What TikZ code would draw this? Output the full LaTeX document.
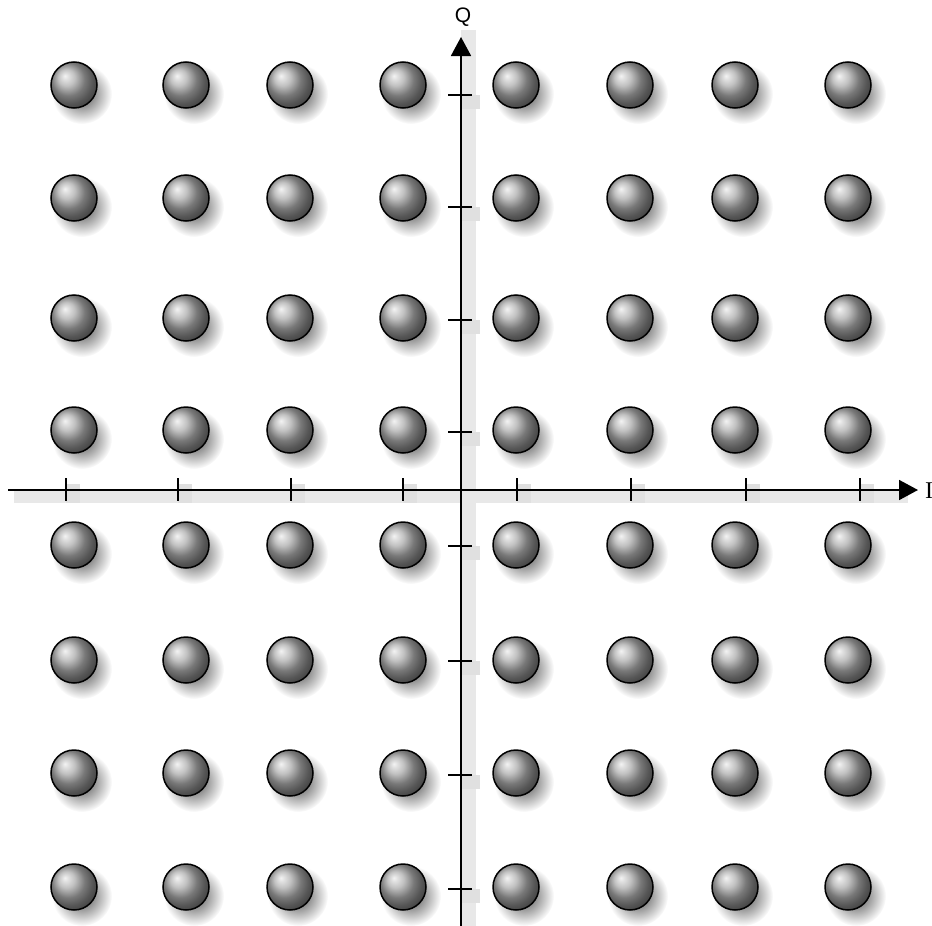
\documentclass[tikz,border=0pt]{standalone}
\usepackage{fontspec}
\setmainfont{Liberation Serif}
\newfontfamily\axsans{Liberation Sans}
\usetikzlibrary{arrows.meta,fadings,shadings}
\tikzfading[name=softshadow, inner color=transparent!30, outer color=transparent!100]
\tikzset{
  ballnode/.style={circle, minimum size=46pt, inner sep=0pt, draw=black, line width=1.5pt, ball color=gray!65},
  axisline/.style={line width=1.8pt, -{Triangle[length=19pt,width=20pt]}},
  tickline/.style={line width=1.8pt},
  bandfill/.style={fill=black!9},
  tickshade/.style={fill=black!12},
  lbl/.style={inner sep=0pt, font=\fontsize{24}{24}\selectfont}
}
\begin{document}
\begin{tikzpicture}[x=1pt,y=-1pt]
\useasboundingbox (0,0) rectangle (932,926);
% axis shadows
\fill[bandfill] (14,490) rectangle (908,503);
\fill[bandfill] (461,30) rectangle (476,926);
\foreach \t in {66,178,291,403,517,631,746,860}{
  \fill[tickshade] (\t,484) rectangle (\t+14,503);
}
\foreach \t in {95,207,320,432,546,661,775,889}{
  \fill[tickshade] (461,\t) rectangle (480,\t+14);
}
% sphere shadows
\foreach \x [count=\i] in {74,186,290,403,516,630,735,848}{
  \foreach \y [count=\j] in {85,198,318,430,545,660,773,887}{
    \fill[black, path fading=softshadow] (\x+8,\y+9) circle (30);
  }
}
% spheres
\foreach \x [count=\i] in {74,186,290,403,516,630,735,848}{
  \foreach \y [count=\j] in {85,198,318,430,545,660,773,887}{
    \node[ballnode] (b-\i-\j) at (\x,\y) {};
  }
}
% axes
\coordinate (xs) at (8,490);
\coordinate (xe) at (918,490);
\coordinate (ys) at (461,926);
\coordinate (ye) at (461,37);
\draw[axisline] (xs) -- (xe);
\draw[axisline] (ys) -- (ye);
\foreach \t in {66,178,291,403,517,631,746,860}{
  \draw[tickline] (\t,478) -- (\t,501);
}
\foreach \t in {95,207,320,432,546,661,775,889}{
  \draw[tickline] (448,\t) -- (472,\t);
}
\node[lbl, font=\axsans\fontsize{21}{21}\selectfont] (Q) at (463,17) {Q};
\node[lbl, anchor=west] (I) at (925,491) {I};
\end{tikzpicture}
\end{document}
